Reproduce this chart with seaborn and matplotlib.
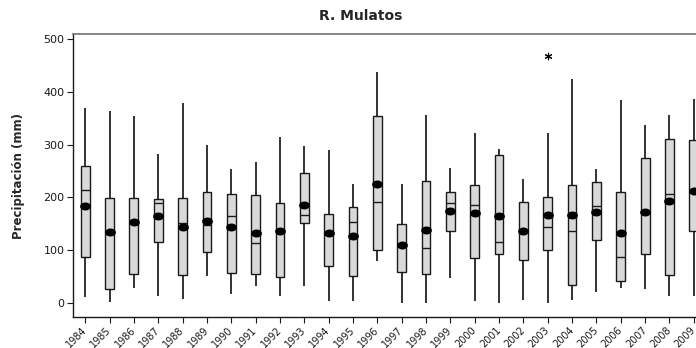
import numpy as np
import pandas as pd
import matplotlib
matplotlib.use("Agg")
import matplotlib.pyplot as plt
from matplotlib.path import Path
from matplotlib.markers import MarkerStyle
import seaborn as sns

# Monthly precipitation summary per year, R. Mulatos station (mm)
years = [str(y) for y in range(1984, 2010)]
whisker_low = [11, 2, 28, 13, 8, 50, 17, 32, 12, 32, 4, 3, 79, 0, 0, 47, 4,
               0, 6, 0, 6, 20, 28, 26, 13, 13]
q1 = [87, 26, 54, 116, 52, 97, 56, 54, 48, 151, 70, 50, 100, 59, 55, 136, 85,
      93, 82, 101, 34, 119, 42, 93, 52, 136]
median = [214, 131, 152, 190, 151, 148, 164, 114, 135, 166, 131, 153, 192, 108,
          103, 189, 185, 116, 137, 144, 137, 184, 87, 172, 207, 210]
q3 = [259, 199, 199, 197, 199, 210, 207, 205, 189, 246, 168, 181, 354, 149,
      231, 210, 223, 280, 192, 201, 223, 229, 210, 275, 311, 309]
whisker_high = [370, 363, 354, 283, 380, 299, 253, 268, 315, 298, 289, 225, 438,
                225, 356, 255, 322, 292, 234, 322, 425, 253, 384, 337, 356, 387]
means = [184, 135, 154, 165, 143, 156, 143, 132, 137, 186, 132, 126, 225, 109,
         139, 175, 171, 164, 137, 166, 166, 173, 132, 173, 194, 212]
outlier_years = ["2003"]
outlier_values = [468]

# Long-form table: the five summary values for each year
rows = []
for i, yr in enumerate(years):
    for v in (whisker_low[i], q1[i], median[i], q3[i], whisker_high[i]):
        rows.append({"year": yr, "value": v})
df = pd.DataFrame(rows)
df_mean = pd.DataFrame({"year": years, "mean": means})
df_out = pd.DataFrame({"year": outlier_years, "value": outlier_values})

sns.set_theme(style="ticks")
plt.rcParams["font.family"] = ["DejaVu Sans"]

fig = plt.figure(figsize=(6.96, 3.48), dpi=100)
ax = fig.add_axes([73 / 696, 31 / 348, 633 / 696, 283 / 348])

sns.boxplot(data=df, x="year", y="value", order=years, whis=np.inf,
            width=0.36, color="#d9d9d9", saturation=1, linewidth=1.0,
            linecolor="#1a1a1a", showfliers=False, showcaps=False,
            whiskerprops={"linewidth": 1.2, "color": "#111111"}, ax=ax)

# Mean markers: slightly flattened black ellipses
t = np.linspace(0, 2 * np.pi, 60)
ellipse = Path(np.column_stack([1.35 * np.cos(t), np.sin(t)]))
sns.scatterplot(data=df_mean, x="year", y="mean", marker=MarkerStyle(ellipse),
                s=60, color="black", edgecolor="black", linewidth=0,
                zorder=5, ax=ax, legend=False)
sns.scatterplot(data=df_out, x="year", y="value", marker=(6, 2, 0), s=22,
                color="black", linewidth=0.8, zorder=5, ax=ax, legend=False)

ax.set_xlim(-0.5, 25.5)
ax.set_ylim(-27, 510)
ax.set_yticks([0, 100, 200, 300, 400, 500])
ax.set_xlabel("")
ax.set_ylabel("")
ax.tick_params(axis="both", length=4, width=0.8, colors="#1a1a1a")
ax.tick_params(axis="y", labelsize=8, pad=2)
ax.tick_params(axis="x", labelsize=7, pad=4)
for lab in ax.get_xticklabels():
    lab.set_rotation(45)
    lab.set_ha("right")
    lab.set_va("center")
    lab.set_rotation_mode("anchor")

for side in ("left", "bottom"):
    ax.spines[side].set_color("#1a1a1a")
    ax.spines[side].set_linewidth(1.0)
ax.spines["top"].set_visible(True)
ax.spines["top"].set_color("#707070")
ax.spines["top"].set_linewidth(1.2)
ax.spines["right"].set_visible(False)

fig.text(19 / 696, 1 - 176 / 348, "Precipitación (mm)", rotation=90,
         ha="center", va="center", fontsize=8.5, fontweight="bold")
fig.text(361 / 696, 1 - 16 / 348, "R. Mulatos", ha="center", va="center",
         fontsize=10, fontweight="bold")

fig.savefig("out.png", dpi=100)
